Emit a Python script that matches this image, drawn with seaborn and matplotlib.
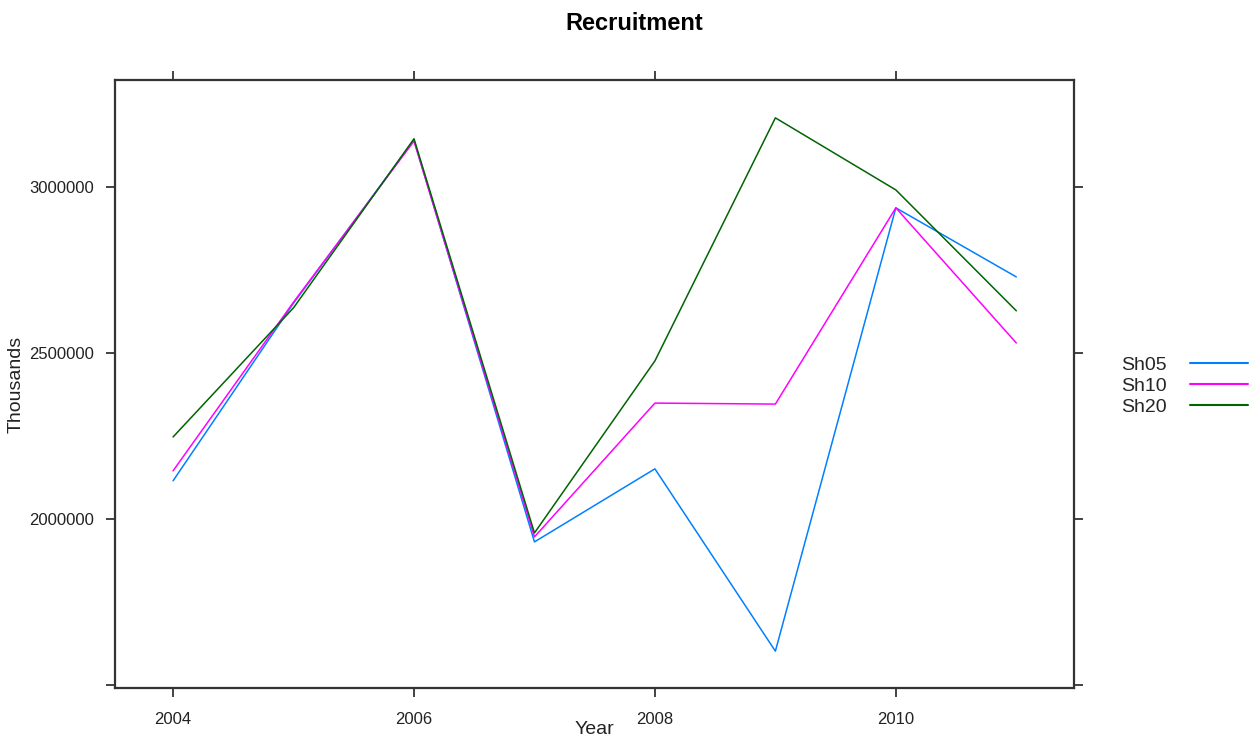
import matplotlib
matplotlib.use("Agg")
import matplotlib.pyplot as plt
import seaborn as sns
import pandas as pd

years = [2004, 2005, 2006, 2007, 2008, 2009, 2010, 2011]
sh05 = [2115000, 2650000, 3141000, 1931000, 2151000, 1602000, 2937000, 2729000]
sh10 = [2145000, 2653000, 3138000, 1946000, 2349000, 2346000, 2937000, 2530000]
sh20 = [2247000, 2636000, 3145000, 1958000, 2476000, 3208000, 2991000, 2627000]
series_names = ["Sh05", "Sh10", "Sh20"]
colors = ["#0080ff", "#ff00ff", "#006400"]
xticks = [2004, 2006, 2008, 2010]
yticks = [1500000, 2000000, 2500000, 3000000]
ytick_labels = ["", "2000000", "2500000", "3000000"]

sns.set_style("white")
plt.rcParams["font.family"] = ["Liberation Sans", "DejaVu Sans"]

rows = []
for name, vals in zip(series_names, [sh05, sh10, sh20]):
    for y, v in zip(years, vals):
        rows.append({"Year": y, "Thousands": v, "Series": name})
df = pd.DataFrame(rows)

W, H = 1251, 740
fig = plt.figure(figsize=(W / 100, H / 100), dpi=100)
ax = fig.add_axes([115 / W, 1 - 688 / H, (1074 - 115) / W, (688 - 80) / H])

sns.lineplot(data=df, x="Year", y="Thousands", hue="Series",
             palette=dict(zip(series_names, colors)), linewidth=1.1,
             ax=ax, legend=False)

ax.set_xlim(2003.518, 2011.479)
ax.set_ylim(1491000, 3322000)
ax.set_xticks(xticks)
ax.set_xticklabels([str(t) for t in xticks])
ax.set_yticks(yticks)
ax.set_yticklabels(ytick_labels)

for s in ax.spines.values():
    s.set_color("#333333")
    s.set_linewidth(1.6)

ax.tick_params(axis="both", which="both", direction="out", length=6.5, width=1.2,
               color="#222222", labelsize=12, labelcolor="#222222",
               top=True, right=True, bottom=True, left=True,
               labeltop=False, labelright=False)
ax.tick_params(axis="x", pad=10.5)
ax.tick_params(axis="y", pad=8.5)

ax.set_xlabel("Year", fontsize=14, color="#222222")
ax.set_ylabel("Thousands", fontsize=14, color="#222222")
ax.xaxis.set_label_coords(0.5, -0.0675)
ax.yaxis.set_label_coords(-0.1028, 0.5)
ax.xaxis.label.set_va("center")
ax.yaxis.label.set_va("center")

fig.text(634 / W, 1 - 24 / H, "Recruitment", ha="center", va="center",
         fontsize=17, fontweight="bold", color="black")

handles = ax.get_lines()[:3]
leg = ax.legend(handles, series_names, loc="center left",
                bbox_to_anchor=(1121 / W, 1 - 386 / H), bbox_transform=fig.transFigure,
                markerfirst=False, frameon=False, fontsize=14, handlelength=3.0,
                handletextpad=1.2, labelspacing=0.18, borderpad=0, borderaxespad=0)
for ln in leg.get_lines():
    ln.set_linewidth(1.5)

fig.savefig("out.png", dpi=100)
